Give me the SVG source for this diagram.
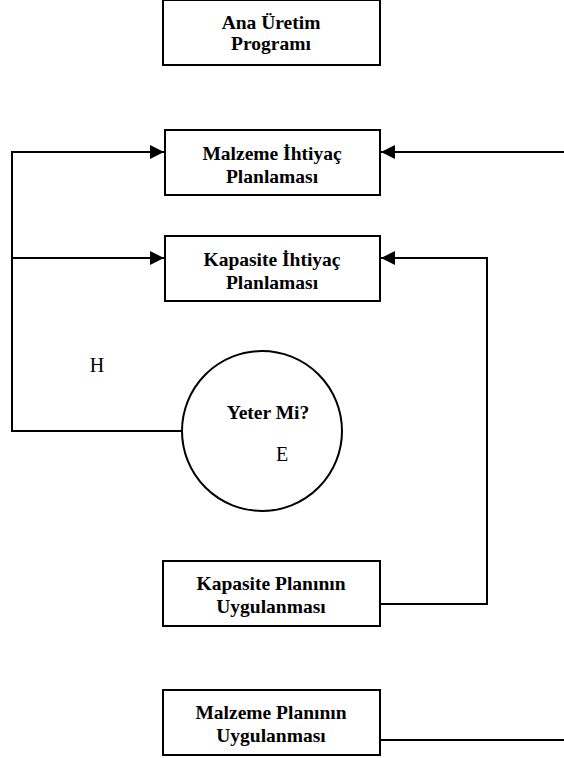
<svg xmlns="http://www.w3.org/2000/svg" width="564" height="758" viewBox="0 0 564 758">
  <style>
    .box { fill: #fff; stroke: #000; stroke-width: 2; }
    .lbl { font-family: "Liberation Serif", "Times New Roman", serif; font-size: 19.5px; font-weight: bold; text-anchor: middle; fill: #000; }
    .tag { font-family: "Liberation Serif", "Times New Roman", serif; font-size: 20px; text-anchor: middle; fill: #000; }
    .wire { fill: none; stroke: #000; stroke-width: 2; }
  </style>
  <defs>
    <marker id="head" viewBox="0 0 10 10" refX="10" refY="5" markerWidth="14" markerHeight="14" markerUnits="userSpaceOnUse" orient="auto">
      <path d="M0,0 L10,5 L0,10 Z" fill="#000"/>
    </marker>
  </defs>
  <rect width="564" height="758" fill="#fff"/>

  <g id="connectors">
    <path class="wire" d="M182,431 H12 V152 H164" marker-end="url(#head)"/>
    <path class="wire" d="M12,258 H164" marker-end="url(#head)"/>
    <path class="wire" d="M564,152 H381" marker-end="url(#head)"/>
    <path class="wire" d="M380,604 H487 V258 H381" marker-end="url(#head)"/>
    <path class="wire" d="M380,740 H564"/>
  </g>

  <g id="ana-uretim">
    <rect class="box" x="163" y="0" width="217" height="65"/>
    <text class="lbl" x="271" y="29">Ana Üretim</text>
    <text class="lbl" x="271" y="50">Programı</text>
  </g>

  <g id="malzeme-ihtiyac">
    <rect class="box" x="165" y="130" width="215" height="65"/>
    <text class="lbl" x="272" y="160">Malzeme İhtiyaç</text>
    <text class="lbl" x="272" y="183">Planlaması</text>
  </g>

  <g id="kapasite-ihtiyac">
    <rect class="box" x="165" y="236" width="215" height="65"/>
    <text class="lbl" x="272" y="266">Kapasite İhtiyaç</text>
    <text class="lbl" x="272" y="289">Planlaması</text>
  </g>

  <g id="yeter-mi">
    <circle class="box" cx="262" cy="431" r="80"/>
    <text class="lbl" x="268" y="419">Yeter Mi?</text>
    <text class="tag" x="282" y="461">E</text>
  </g>

  <text class="tag" x="97" y="372">H</text>

  <g id="kapasite-plan">
    <rect class="box" x="163" y="561" width="217" height="65"/>
    <text class="lbl" x="271" y="590">Kapasite Planının</text>
    <text class="lbl" x="271" y="613">Uygulanması</text>
  </g>

  <g id="malzeme-plan">
    <rect class="box" x="163" y="690" width="217" height="65"/>
    <text class="lbl" x="271" y="719">Malzeme Planının</text>
    <text class="lbl" x="271" y="742">Uygulanması</text>
  </g>
</svg>
